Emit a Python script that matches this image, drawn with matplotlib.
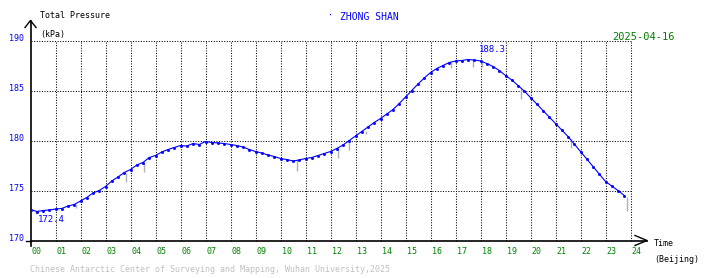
import matplotlib
matplotlib.use('Agg')
import matplotlib.pyplot as plt
import numpy as np

# Trykkdata (kPa) hvert kvarter, lest av fra bildet
timer = np.arange(0, 24, 0.25)
trykk = [173.1, 172.9, 173.0, 173.05, 173.15, 173.2, 173.45, 173.6,
         173.95, 174.3, 174.75, 175.0, 175.4, 175.95, 176.35, 176.8,
         177.1, 177.55, 177.8, 178.3, 178.5, 178.85, 179.1, 179.3,
         179.5, 179.45, 179.7, 179.6, 179.9, 179.8, 179.75, 179.7,
         179.6, 179.5, 179.35, 179.1, 178.9, 178.75, 178.55, 178.4,
         178.2, 178.1, 177.95, 178.05, 178.2, 178.3, 178.5, 178.7,
         178.9, 179.2, 179.55, 180.0, 180.45, 180.9, 181.35, 181.8,
         182.2, 182.65, 183.1, 183.7, 184.35, 185.0, 185.65, 186.25,
         186.8, 187.2, 187.5, 187.8, 187.95, 188.0, 188.1, 188.05,
         187.95, 187.7, 187.4, 187.0, 186.5, 186.05, 185.5, 184.95,
         184.3, 183.65, 183.0, 182.35, 181.7, 181.05, 180.4, 179.65,
         178.9, 178.15, 177.4, 176.65, 175.9, 175.45, 175.0, 174.5]

# Grå utslag nedover
utslag_timer = [0.2, 1.8, 3.8, 4.55, 10.65, 12.3, 12.75, 13.4, 16.8, 17.7, 18.05, 19.6, 21.6, 23.85]
utslag_topp = [173.0, 173.7, 176.8, 177.8, 178.05, 179.3, 179.9, 181.0, 187.85, 188.05, 187.95, 185.3, 180.2, 174.4]
utslag_bunn = [172.7, 173.3, 175.9, 176.9, 177.0, 178.3, 179.1, 180.7, 187.3, 187.4, 187.4, 184.2, 179.3, 173.0]

maks_verdi = 188.3
min_verdi = 172.4
yticks = [170, 175, 180, 185, 190]
xticks = list(range(0, 25))

plt.rcParams['font.family'] = 'DejaVu Sans Mono'
fig = plt.figure(figsize=(7.1, 2.78), dpi=100)
W, H = 710, 278

def fx(px):
    return px / W

def fy(py):
    return 1 - py / H

ax = fig.add_axes([fx(30.5), fy(240.5), 600 / W, 200 / H])
ax.set_xlim(0, 24)
ax.set_ylim(170, 190)
ax.axis('off')

prikk = (0, (1, 1.5))
for y in yticks[1:]:
    ax.plot([0, 24], [y, y], color='black', lw=0.75, ls=prikk, clip_on=False)
for x in xticks[1:]:
    ax.plot([x, x], [170, 190], color='black', lw=0.75, ls=prikk, clip_on=False)

# Akser med piler
ax.plot([0, 0], [169.5, 192], color='black', lw=1.2, clip_on=False)
ax.plot([-0.22, 0, 0.22], [191.3, 192, 191.3], color='black', lw=1, clip_on=False)
ax.plot([0, 24.66], [170, 170], color='black', lw=1.2, clip_on=False)
ax.plot([24.18, 24.66, 24.18], [170.5, 170, 169.5], color='black', lw=1, clip_on=False)
ax.plot([-0.2, 0], [170, 170], color='black', lw=1, clip_on=False)

ax.vlines(utslag_timer, utslag_bunn, utslag_topp, color='#b0b0b0', lw=1, zorder=2)
ax.plot(timer, trykk, color='#0000ff', lw=0.8, marker='s', ms=1.0, zorder=3)

for y in yticks:
    ax.text(-0.27, y + 0.2, str(y), color='#0000ff', fontsize=6, ha='right', va='center', clip_on=False)
for x in xticks:
    ax.text(x + 0.05, 168.9, f'{x:02d}', color='#008000', fontsize=6, ha='left', va='center', clip_on=False)

ax.text(17.94, 189.05, f'{maks_verdi}', color='#0000ff', fontsize=6.5, ha='left', va='center')
ax.text(0.29, 172.1, f'{min_verdi}', color='#0000ff', fontsize=6.5, ha='left', va='center')

fig.text(fx(40), fy(16), 'Total Pressure', fontsize=6, va='center', ha='left')
fig.text(fx(40), fy(34), '(kPa)', fontsize=6, va='center', ha='left')
fig.text(fx(654), fy(244), 'Time', fontsize=6, va='center', ha='left')
fig.text(fx(654), fy(260), '(Beijing)', fontsize=6, va='center', ha='left')
fig.text(fx(330), fy(16), '\u00b7', color='#0000ff', fontsize=6, va='center', ha='center')
fig.text(fx(340), fy(17), 'ZHONG SHAN', color='#0000ff', fontsize=7, va='center', ha='left')
fig.text(fx(612), fy(37), '2025-04-16', color='#008000', fontsize=7.5, va='center', ha='left')
fig.text(fx(30), fy(270), 'Chinese Antarctic Center of Surveying and Mapping, Wuhan University,2025',
         color='#c0c0c0', fontsize=6, va='center', ha='left')

fig.savefig('out.png', dpi=100)
